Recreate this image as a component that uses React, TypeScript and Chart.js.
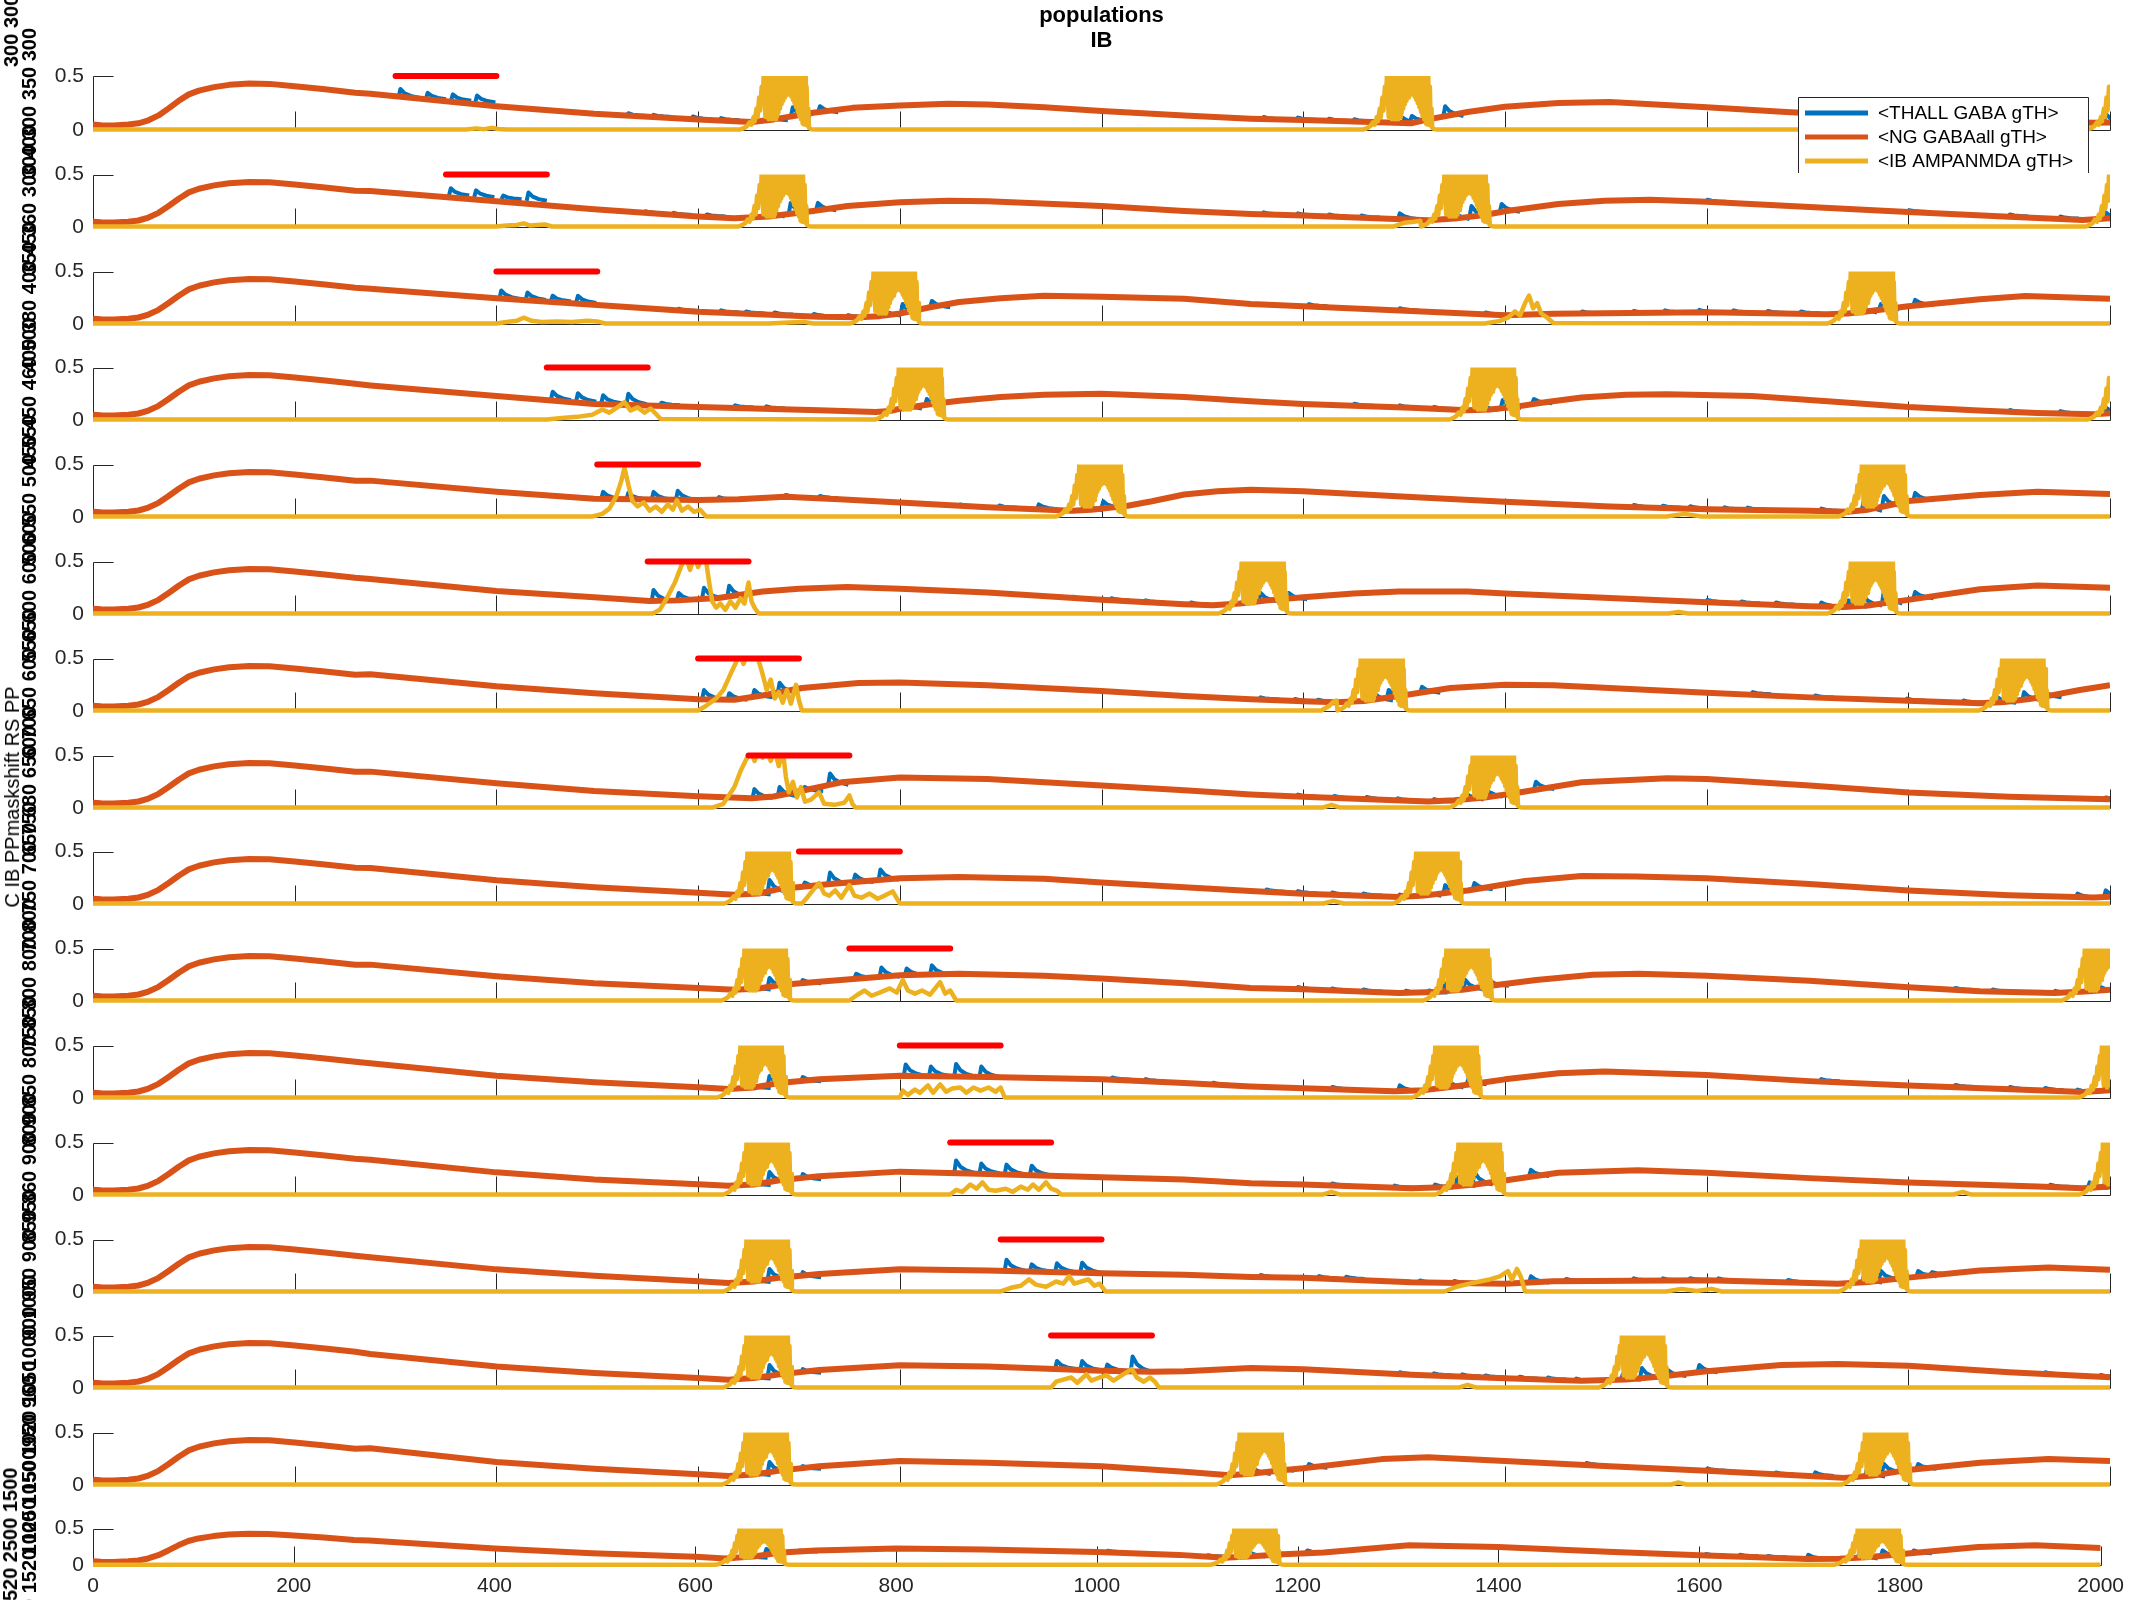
import React, { useEffect, useRef } from "react";
import { Chart, registerables } from "chart.js";
Chart.register(...registerables);

const FONT = "'Liberation Sans', Arial, Helvetica, sans-serif";
const AXIS_COLOR = "#262626";
const C_THALL = "#0072BD";
const C_NG = "#D95319";
const C_IB = "#EDB120";
const C_STIM = "#FF0000";

const SERIES_NAMES = ["<THALL GABA gTH>", "<NG GABAall gTH>", "<IB AMPANMDA gTH>"];
const TITLE_LINES = ["populations", "IB"];
const X_TICKS = [0, 200, 400, 600, 800, 1000, 1200, 1400, 1600, 1800, 2000];
const Y_TICKS = [0, 0.5];
const STIM_ON = [300, 350, 400, 450, 500, 550, 600, 650, 700, 750, 800, 850, 900, 950, null, null];
const STIM_OFF = [400, 450, 500, 550, 600, 650, 700, 750, 800, 850, 900, 950, 1000, 1050, null, null];
const STIM_LEVEL = 0.5;
const MAIN_YLABEL = "C IB PPmaskshift RS PP";
const OUTER_TOP_LABEL = "300 300 300 350";
const OUTER_BOTTOM_LABEL = "1500 1520 2500 1500";
const PANEL_YLABELS = [
  "300 300 350 300", "350 360 300 400", "400 380 400 450", "450 450 460 500",
  "500 550 500 550", "550 600 600 600", "600 650 600 650", "650 680 650 700",
  "700 750 700 750", "750 800 800 800", "800 850 800 850", "850 860 900 900",
  "900 950 900 950", "950 960 1000 1000", "1000 1050 1020 1050", "1500 1520 1250 1500",
];

// common onset of <NG GABAall gTH> (all panels)
const NG_ONSET: number[][] = [[0,0.05],[8,0.045],[20,0.042],[35,0.05],[45,0.062],[55,0.09],[65,0.135],[75,0.2],[85,0.27],[95,0.33],[105,0.365],[120,0.397],[135,0.418],[155,0.43],[175,0.427],[200,0.405],[230,0.377],[260,0.345]];

const NG_01 = [[275,0.335],[400,0.22],[497,0.15],[600,0.098],[653,0.074],[675,0.098],[714,0.16],[753,0.205],[800,0.227],[848,0.242],[887,0.236],[943,0.21],[1000,0.175],[1082,0.135],[1148,0.105],[1200,0.092],[1267,0.074],[1307,0.062],[1324,0.098],[1363,0.166],[1400,0.215],[1453,0.25],[1504,0.26],[1600,0.21],[1679,0.166],[1750,0.135],[1850,0.1],[1930,0.078],[1984,0.067],[2000,0.07]];
const NG_02 = [[275,0.344],[400,0.245],[497,0.17],[600,0.1],[636,0.083],[670,0.1],[714,0.153],[748,0.2],[800,0.236],[848,0.25],[887,0.245],[1000,0.2],[1082,0.153],[1148,0.123],[1200,0.11],[1278,0.08],[1324,0.065],[1350,0.08],[1380,0.115],[1400,0.15],[1453,0.22],[1499,0.25],[1544,0.26],[1600,0.24],[1702,0.19],[1800,0.144],[1900,0.098],[1973,0.067],[2000,0.083]];
const NG_03 = [[275,0.337],[400,0.245],[600,0.117],[720,0.07],[759,0.064],[780,0.075],[800,0.1],[830,0.16],[859,0.21],[900,0.245],[943,0.27],[1000,0.26],[1082,0.24],[1148,0.19],[1200,0.17],[1307,0.123],[1400,0.083],[1448,0.098],[1600,0.113],[1719,0.092],[1740,0.1],[1758,0.12],[1800,0.17],[1871,0.236],[1916,0.267],[2000,0.242]];
const NG_04 = [[275,0.33],[400,0.23],[497,0.153],[600,0.123],[720,0.092],[776,0.077],[790,0.085],[800,0.107],[830,0.15],[859,0.184],[900,0.22],[943,0.24],[1000,0.25],[1082,0.22],[1148,0.178],[1200,0.153],[1307,0.117],[1363,0.092],[1385,0.1],[1408,0.123],[1440,0.17],[1476,0.215],[1520,0.24],[1561,0.245],[1645,0.23],[1720,0.18],[1800,0.123],[1870,0.09],[1928,0.067],[1984,0.055],[2000,0.065]];
const NG_05 = [[275,0.347],[400,0.24],[497,0.175],[600,0.163],[640,0.17],[686,0.193],[740,0.17],[800,0.138],[887,0.092],[971,0.06],[990,0.07],[1010,0.09],[1026,0.107],[1050,0.15],[1082,0.215],[1115,0.245],[1148,0.26],[1200,0.245],[1307,0.19],[1400,0.145],[1504,0.1],[1600,0.074],[1702,0.06],[1740,0.05],[1760,0.07],[1780,0.11],[1800,0.153],[1871,0.21],[1928,0.24],[2000,0.22]];
const NG_06 = [[275,0.334],[400,0.22],[497,0.16],[552,0.123],[580,0.13],[620,0.153],[664,0.215],[700,0.24],[748,0.258],[800,0.242],[887,0.206],[1000,0.135],[1082,0.092],[1110,0.083],[1137,0.1],[1165,0.13],[1200,0.16],[1250,0.195],[1295,0.215],[1363,0.215],[1400,0.196],[1504,0.153],[1600,0.113],[1702,0.074],[1736,0.067],[1760,0.08],[1780,0.11],[1800,0.135],[1871,0.236],[1928,0.273],[2000,0.25]];
const NG_07 = [[275,0.35],[400,0.236],[497,0.17],[600,0.113],[636,0.107],[665,0.15],[703,0.22],[759,0.267],[800,0.273],[887,0.245],[1000,0.19],[1082,0.144],[1148,0.113],[1200,0.092],[1233,0.083],[1260,0.095],[1295,0.144],[1346,0.22],[1400,0.25],[1448,0.245],[1600,0.175],[1702,0.13],[1800,0.098],[1871,0.074],[1895,0.085],[1920,0.115],[1939,0.144],[1970,0.2],[2000,0.245]];
const NG_08 = [[275,0.347],[400,0.236],[497,0.163],[600,0.113],[653,0.092],[675,0.11],[697,0.153],[742,0.245],[800,0.29],[887,0.276],[1000,0.215],[1082,0.17],[1148,0.129],[1200,0.107],[1324,0.061],[1350,0.075],[1380,0.1],[1408,0.138],[1476,0.245],[1561,0.285],[1600,0.276],[1702,0.215],[1800,0.147],[1900,0.107],[2000,0.083]];
const NG_09 = [[275,0.344],[400,0.227],[497,0.16],[600,0.107],[636,0.089],[660,0.1],[681,0.144],[731,0.19],[800,0.245],[859,0.258],[943,0.242],[1000,0.206],[1082,0.16],[1148,0.123],[1200,0.098],[1295,0.067],[1320,0.08],[1345,0.11],[1363,0.129],[1420,0.22],[1476,0.267],[1530,0.262],[1600,0.245],[1702,0.19],[1800,0.129],[1900,0.083],[1984,0.061],[2000,0.07]];
const NG_10 = [[275,0.347],[400,0.236],[497,0.17],[600,0.123],[636,0.107],[660,0.12],[681,0.153],[720,0.184],[800,0.245],[859,0.26],[943,0.24],[1000,0.215],[1082,0.17],[1148,0.123],[1200,0.113],[1295,0.077],[1330,0.085],[1360,0.11],[1380,0.138],[1431,0.2],[1487,0.25],[1533,0.26],[1600,0.24],[1702,0.193],[1800,0.132],[1871,0.092],[1945,0.077],[1975,0.09],[2000,0.107]];
const NG_11 = [[275,0.332],[400,0.212],[497,0.15],[600,0.103],[630,0.086],[655,0.1],[681,0.144],[720,0.178],[800,0.212],[887,0.2],[1000,0.178],[1082,0.144],[1148,0.11],[1200,0.092],[1290,0.065],[1320,0.075],[1350,0.11],[1375,0.144],[1400,0.178],[1453,0.236],[1499,0.253],[1600,0.219],[1702,0.161],[1800,0.12],[1928,0.075],[1973,0.058],[2000,0.075]];
const NG_12 = [[275,0.336],[400,0.216],[497,0.147],[600,0.103],[630,0.089],[655,0.1],[681,0.14],[720,0.18],[800,0.223],[887,0.2],[1000,0.17],[1082,0.147],[1148,0.113],[1200,0.1],[1307,0.065],[1340,0.075],[1370,0.1],[1391,0.127],[1453,0.212],[1532,0.236],[1600,0.212],[1702,0.161],[1800,0.12],[1928,0.082],[1973,0.065],[2000,0.082]];
const NG_13 = [[275,0.332],[400,0.216],[497,0.154],[600,0.103],[630,0.086],[655,0.1],[681,0.137],[720,0.171],[800,0.216],[887,0.205],[1000,0.18],[1082,0.164],[1148,0.144],[1200,0.137],[1307,0.092],[1400,0.079],[1448,0.103],[1600,0.113],[1730,0.079],[1760,0.095],[1800,0.137],[1871,0.205],[1939,0.233],[2000,0.212]];
const NG_14 = [[275,0.325],[400,0.205],[497,0.144],[600,0.096],[630,0.079],[655,0.095],[681,0.13],[720,0.171],[800,0.216],[887,0.205],[1000,0.164],[1050,0.155],[1082,0.16],[1148,0.19],[1200,0.178],[1307,0.127],[1400,0.092],[1476,0.068],[1520,0.08],[1555,0.11],[1600,0.16],[1674,0.219],[1730,0.23],[1800,0.212],[1900,0.15],[2000,0.103]];
const NG_15 = [[275,0.35],[400,0.219],[497,0.154],[600,0.103],[630,0.086],[655,0.1],[681,0.137],[720,0.178],[800,0.23],[887,0.212],[1000,0.178],[1082,0.127],[1127,0.092],[1150,0.11],[1182,0.144],[1200,0.16],[1278,0.247],[1324,0.264],[1400,0.23],[1504,0.178],[1600,0.137],[1702,0.086],[1736,0.068],[1765,0.09],[1800,0.144],[1871,0.212],[1939,0.247],[2000,0.23]];
const NG_16 = [[275,0.337],[400,0.228],[497,0.163],[600,0.114],[630,0.089],[660,0.12],[686,0.173],[720,0.198],[800,0.228],[887,0.213],[1000,0.178],[1082,0.139],[1127,0.1],[1155,0.12],[1186,0.148],[1226,0.173],[1311,0.272],[1400,0.248],[1509,0.183],[1600,0.134],[1708,0.084],[1740,0.085],[1770,0.11],[1800,0.148],[1878,0.248],[1935,0.272],[2000,0.233]];

// <THALL GABA gTH> spikes: [time, base, peak]
const THALL_01 = [[304,0.3,0.38],[331,0.285,0.345],[356,0.27,0.33],[380,0.255,0.32],[530,0.13,0.155],[555,0.12,0.14],[594,0.1,0.125],[622,0.09,0.11],[670,0.09,0.13],[693,0.12,0.21],[720,0.165,0.22],[1160,0.1,0.12],[1194,0.093,0.115],[1225,0.085,0.105],[1250,0.078,0.1],[1291,0.07,0.19],[1307,0.08,0.13],[1340,0.13,0.22],[1995,0.07,0.15]];
const THALL_02 = [[354,0.3,0.37],[379,0.285,0.35],[406,0.265,0.3],[431,0.25,0.33],[547,0.13,0.15],[575,0.115,0.135],[608,0.1,0.12],[667,0.1,0.2],[691,0.13,0.23],[718,0.16,0.23],[1160,0.12,0.14],[1194,0.11,0.13],[1225,0.1,0.12],[1257,0.09,0.11],[1295,0.075,0.13],[1346,0.075,0.18],[1366,0.1,0.2],[1396,0.145,0.22],[1600,0.24,0.26],[1800,0.144,0.16],[1900,0.1,0.12],[1950,0.08,0.1],[1995,0.075,0.14]];
const THALL_03 = [[404,0.24,0.32],[430,0.23,0.3],[455,0.215,0.27],[480,0.2,0.27],[580,0.125,0.145],[622,0.11,0.13],[647,0.1,0.12],[675,0.09,0.11],[714,0.075,0.095],[748,0.065,0.085],[782,0.08,0.15],[802,0.1,0.19],[831,0.16,0.22],[1205,0.17,0.19],[1295,0.13,0.15],[1380,0.09,0.11],[1476,0.1,0.12],[1527,0.105,0.125],[1558,0.11,0.13],[1592,0.112,0.135],[1626,0.11,0.13],[1660,0.105,0.125],[1693,0.1,0.12],[1750,0.11,0.2],[1772,0.14,0.19],[1806,0.18,0.23]];
const THALL_04 = [[455,0.19,0.27],[480,0.175,0.255],[505,0.16,0.236],[530,0.15,0.25],[563,0.14,0.165],[636,0.12,0.14],[667,0.11,0.13],[803,0.11,0.18],[826,0.14,0.2],[1250,0.135,0.155],[1295,0.12,0.14],[1329,0.105,0.125],[1374,0.095,0.17],[1397,0.115,0.19],[1428,0.16,0.2],[1900,0.075,0.095],[1950,0.062,0.085],[1995,0.06,0.12]];
const THALL_05 = [[505,0.172,0.24],[530,0.168,0.23],[555,0.165,0.24],[579,0.163,0.25],[620,0.165,0.19],[686,0.19,0.21],[720,0.18,0.2],[859,0.1,0.12],[898,0.088,0.11],[937,0.075,0.12],[982,0.065,0.15],[1001,0.085,0.15],[1527,0.095,0.115],[1556,0.088,0.108],[1583,0.082,0.102],[1617,0.072,0.092],[1640,0.07,0.09],[1713,0.058,0.08],[1755,0.06,0.16],[1775,0.1,0.2],[1806,0.16,0.23]];
const THALL_06 = [[555,0.123,0.23],[580,0.13,0.2],[605,0.15,0.25],[630,0.165,0.27],[971,0.145,0.165],[1009,0.13,0.15],[1043,0.11,0.13],[1088,0.09,0.11],[1157,0.12,0.2],[1185,0.14,0.2],[1600,0.113,0.135],[1634,0.1,0.12],[1668,0.09,0.11],[1713,0.072,0.11],[1740,0.07,0.13],[1755,0.08,0.17],[1775,0.1,0.23],[1806,0.15,0.21]];
const THALL_07 = [[605,0.112,0.2],[630,0.108,0.17],[655,0.13,0.2],[680,0.17,0.27],[1157,0.11,0.13],[1191,0.095,0.115],[1214,0.088,0.108],[1270,0.1,0.17],[1284,0.12,0.2],[1317,0.175,0.23],[1645,0.16,0.18],[1707,0.128,0.148],[1798,0.098,0.118],[1854,0.08,0.1],[1888,0.078,0.13],[1914,0.1,0.18],[1933,0.13,0.2]];
const THALL_08 = [[655,0.095,0.18],[680,0.11,0.2],[705,0.16,0.2],[730,0.22,0.33],[1194,0.108,0.128],[1230,0.095,0.115],[1262,0.085,0.105],[1293,0.072,0.092],[1329,0.062,0.085],[1360,0.08,0.15],[1379,0.11,0.2],[1430,0.18,0.25],[1995,0.083,0.1]];
const THALL_09 = [[653,0.09,0.14],[670,0.11,0.23],[705,0.165,0.205],[730,0.19,0.3],[755,0.21,0.28],[780,0.23,0.33],[1163,0.118,0.138],[1194,0.103,0.123],[1228,0.09,0.11],[1259,0.08,0.1],[1295,0.067,0.09],[1318,0.078,0.15],[1340,0.1,0.18],[1369,0.14,0.2],[1967,0.062,0.1],[1995,0.065,0.13]];
const THALL_10 = [[653,0.11,0.15],[670,0.13,0.22],[703,0.17,0.2],[756,0.22,0.26],[781,0.23,0.32],[806,0.245,0.31],[831,0.25,0.34],[1194,0.113,0.133],[1228,0.1,0.12],[1259,0.09,0.11],[1301,0.078,0.098],[1324,0.08,0.1],[1340,0.1,0.17],[1360,0.11,0.2],[1385,0.145,0.19],[1846,0.105,0.125],[1883,0.09,0.11],[1945,0.077,0.097],[1984,0.1,0.18]];
const THALL_11 = [[653,0.095,0.12],[670,0.12,0.21],[703,0.16,0.2],[805,0.212,0.32],[830,0.21,0.3],[855,0.205,0.325],[880,0.2,0.3],[1010,0.175,0.195],[1043,0.16,0.18],[1110,0.125,0.145],[1228,0.085,0.105],[1295,0.067,0.12],[1340,0.1,0.2],[1363,0.13,0.18],[1713,0.16,0.18],[1846,0.105,0.125],[1900,0.085,0.105],[1935,0.075,0.095],[1967,0.06,0.08],[1995,0.07,0.13]];
const THALL_12 = [[653,0.095,0.12],[670,0.12,0.22],[703,0.15,0.2],[855,0.21,0.33],[880,0.205,0.3],[905,0.198,0.29],[930,0.19,0.28],[1228,0.09,0.11],[1290,0.07,0.09],[1330,0.072,0.1],[1352,0.085,0.17],[1369,0.1,0.22],[1425,0.18,0.24],[1940,0.078,0.098],[1979,0.066,0.12],[1995,0.075,0.17]];
const THALL_13 = [[653,0.095,0.13],[670,0.12,0.22],[703,0.14,0.19],[905,0.203,0.308],[930,0.196,0.264],[955,0.19,0.274],[980,0.185,0.28],[1157,0.142,0.162],[1215,0.132,0.152],[1242,0.125,0.145],[1315,0.09,0.11],[1349,0.085,0.105],[1425,0.09,0.15],[1460,0.105,0.125],[1527,0.11,0.13],[1556,0.11,0.13],[1583,0.112,0.132],[1611,0.11,0.13],[1680,0.095,0.115],[1755,0.09,0.15],[1772,0.12,0.2],[1809,0.15,0.2],[1823,0.17,0.19]];
const THALL_14 = [[653,0.09,0.12],[670,0.11,0.22],[703,0.145,0.18],[955,0.182,0.257],[980,0.17,0.257],[1005,0.163,0.223],[1030,0.157,0.3],[1295,0.13,0.15],[1329,0.12,0.14],[1357,0.11,0.13],[1380,0.1,0.12],[1414,0.088,0.108],[1442,0.08,0.1],[1470,0.07,0.09],[1516,0.078,0.13],[1535,0.095,0.19],[1561,0.115,0.17],[1592,0.15,0.22],[1935,0.13,0.15],[1990,0.105,0.125]];
const THALL_15 = [[653,0.095,0.13],[670,0.12,0.22],[703,0.155,0.18],[1149,0.105,0.17],[1172,0.135,0.2],[1205,0.165,0.2],[1480,0.19,0.21],[1600,0.137,0.157],[1668,0.1,0.12],[1707,0.085,0.12],[1758,0.08,0.15],[1775,0.12,0.2],[1809,0.155,0.2]];
const THALL_16 = [[653,0.1,0.13],[670,0.14,0.22],[703,0.185,0.2],[1010,0.175,0.195],[1110,0.115,0.135],[1149,0.115,0.2],[1175,0.145,0.18],[1209,0.165,0.2],[1606,0.132,0.152],[1640,0.12,0.14],[1668,0.105,0.125],[1708,0.084,0.14],[1759,0.09,0.18],[1782,0.12,0.2],[1813,0.16,0.2]];

// shape of one THALL spike: [time offset, fraction of (peak - base)]
const THALL_SPIKE_SHAPE = [[-1,0],[0.8,1],[5,0.5],[11,0.2],[19,0]];

// shape of one IB burst: [time offset, value]
const IB_BURST_SHAPE = [[-24,0.005],[-20,0.02],[-17,0.04],[-15,0.07],[-13,0.05],[-11,0.12],[-10,0.08],[-8,0.2],[-7,0.12],[-5.5,0.3],[-4.5,0.18],[-3,0.4],[-2,0.25],[-1,0.5],
  [0,0.3],[0.8,0.12],[1.6,0.56],[2.4,0.15],[3.2,0.56],[4,0.1],[4.8,0.56],[5.6,0.14],[6.4,0.56],[7.2,0.1],[8,0.56],[8.8,0.12],[9.6,0.56],[10.4,0.1],[11.2,0.56],
  [12,0.12],[12.8,0.56],[13.6,0.16],[14.4,0.56],[15.2,0.2],[16,0.56],[16.8,0.24],[17.6,0.56],[18.4,0.27],[19.2,0.56],[20,0.3],[20.8,0.56],[21.6,0.32],[22.4,0.56],[23.2,0.33],[24,0.56],[24.8,0.33],[25.6,0.56],[26.4,0.31],[27.2,0.56],[28,0.28],[28.8,0.56],[29.6,0.25],[30.4,0.56],[31.2,0.21],[32,0.56],[32.8,0.17],[33.6,0.56],[34.4,0.13],[35.2,0.56],[36,0.1],[36.8,0.56],
  [37.6,0.06],[38.4,0.56],[39.2,0.05],[40,0.5],[40.8,0.05],[41.6,0.4],[42.4,0.04],[43.2,0.2],[44,0.02],[46,0.008],[50,0.005]];

// <IB AMPANMDA gTH> burst onsets per panel
const IB_BURSTS_01 = [666, 1284, 2002];
const IB_BURSTS_02 = [664, 1341, 2000];
const IB_BURSTS_03 = [775, 1744];
const IB_BURSTS_04 = [800, 1369, 2002];
const IB_BURSTS_05 = [979, 1755];
const IB_BURSTS_06 = [1140, 1744];
const IB_BURSTS_07 = [1258, 1894];
const IB_BURSTS_08 = [1369];
const IB_BURSTS_09 = [650, 1313];
const IB_BURSTS_10 = [647, 1343, 1976];
const IB_BURSTS_11 = [643, 1332, 1993];
const IB_BURSTS_12 = [649, 1355, 1994];
const IB_BURSTS_13 = [649, 1755];
const IB_BURSTS_14 = [649, 1517];
const IB_BURSTS_15 = [648, 1138, 1758];
const IB_BURSTS_16 = [645, 1138, 1759];

// other <IB AMPANMDA gTH> activity (evoked / small)
const IB_EXTRA_01 = [[[370,0.005],[380,0.015],[388,0.008],[395,0.02],[402,0.01],[410,0.004]]];
const IB_EXTRA_02 = [[[400,0.005],[410,0.015],[420,0.02],[427,0.035],[433,0.015],[440,0.02],[448,0.025],[455,0.005]],[[1290,0.005],[1300,0.04],[1310,0.05],[1316,0.06]]];
const IB_EXTRA_03 = [[[400,0.005],[410,0.02],[420,0.03],[427,0.06],[435,0.03],[445,0.02],[460,0.025],[475,0.02],[490,0.03],[500,0.025],[508,0.005]],[[670,0.005],[690,0.015],[705,0.02],[714,0.005]],[[1380,0.005],[1395,0.03],[1403,0.06],[1410,0.12],[1415,0.08],[1420,0.2],[1424,0.27],[1428,0.15],[1432,0.2],[1436,0.1],[1442,0.06],[1448,0.01]]];
const IB_EXTRA_04 = [[[450,0.005],[465,0.02],[480,0.03],[495,0.05],[505,0.1],[512,0.07],[520,0.12],[527,0.17],[533,0.09],[540,0.12],[547,0.07],[553,0.11],[558,0.06],[563,0.01]]];
const IB_EXTRA_05 = [[[495,0.005],[505,0.03],[512,0.08],[519,0.2],[524,0.35],[527,0.47],[531,0.3],[535,0.15],[540,0.1],[546,0.14],[552,0.06],[558,0.1],[564,0.05],[570,0.12],[575,0.07],[579,0.16],[584,0.06],[590,0.1],[596,0.05],[602,0.07],[608,0.005]],[[1560,0.005],[1578,0.03],[1595,0.005]]];
const IB_EXTRA_06 = [[[555,0.005],[562,0.04],[569,0.15],[577,0.3],[583,0.45],[588,0.55],[592,0.42],[596,0.55],[600,0.45],[604,0.55],[608,0.5],[611,0.3],[614,0.12],[618,0.06],[622,0.1],[627,0.04],[632,0.12],[637,0.06],[642,0.15],[646,0.1],[650,0.3],[653,0.12],[656,0.06],[660,0.005]],[[1562,0.005],[1572,0.02],[1582,0.005]]];
const IB_EXTRA_07 = [[[600,0.005],[608,0.05],[618,0.12],[625,0.2],[632,0.35],[637,0.45],[641,0.55],[645,0.45],[649,0.55],[653,0.5],[657,0.55],[661,0.45],[664,0.35],[668,0.2],[672,0.3],[676,0.12],[680,0.18],[684,0.08],[688,0.2],[692,0.07],[697,0.25],[700,0.1],[703,0.005]],[[1218,0.005],[1226,0.05],[1230,0.09],[1233,0.1]]];
const IB_EXTRA_08 = [[[615,0.005],[625,0.04],[636,0.2],[642,0.35],[647,0.45],[652,0.55],[656,0.45],[660,0.55],[664,0.48],[668,0.55],[672,0.45],[676,0.55],[680,0.4],[684,0.55],[687,0.3],[690,0.15],[694,0.25],[698,0.1],[702,0.2],[706,0.06],[712,0.08],[720,0.15],[725,0.04],[735,0.03],[745,0.05],[750,0.12],[753,0.04],[756,0.005]],[[1220,0.005],[1228,0.03],[1236,0.005]]];
const IB_EXTRA_09 = [[[703,0.005],[708,0.06],[713,0.12],[720,0.2],[725,0.1],[730,0.08],[736,0.13],[742,0.06],[750,0.18],[755,0.08],[762,0.06],[770,0.1],[778,0.05],[785,0.08],[793,0.12],[800,0.005]],[[1220,0.005],[1230,0.03],[1240,0.005]]];
const IB_EXTRA_10 = [[[750,0.005],[758,0.06],[765,0.1],[772,0.05],[780,0.08],[790,0.12],[797,0.08],[803,0.2],[808,0.1],[815,0.07],[822,0.1],[830,0.06],[840,0.18],[845,0.07],[850,0.1],[856,0.005]]];
const IB_EXTRA_11 = [[[800,0.005],[803,0.07],[808,0.03],[815,0.08],[820,0.05],[828,0.12],[833,0.05],[840,0.13],[846,0.06],[852,0.09],[860,0.1],[866,0.05],[873,0.1],[880,0.07],[888,0.1],[895,0.06],[900,0.1],[904,0.005]]];
const IB_EXTRA_12 = [[[850,0.005],[856,0.05],[862,0.03],[870,0.1],[876,0.06],[882,0.12],[888,0.05],[895,0.04],[905,0.06],[912,0.03],[920,0.08],[927,0.05],[932,0.1],[938,0.05],[945,0.12],[950,0.06],[956,0.04],[960,0.005]],[[1220,0.005],[1228,0.03],[1236,0.005]],[[1845,0.005],[1854,0.03],[1862,0.005]]];
const IB_EXTRA_13 = [[[900,0.005],[910,0.04],[920,0.06],[928,0.12],[935,0.07],[945,0.05],[955,0.1],[962,0.08],[968,0.15],[973,0.08],[980,0.1],[987,0.12],[993,0.06],[998,0.08],[1004,0.005]],[[1340,0.005],[1352,0.05],[1365,0.08],[1375,0.1],[1385,0.12],[1395,0.15],[1403,0.2],[1407,0.12],[1412,0.22],[1416,0.14],[1420,0.005]],[[1560,0.005],[1575,0.03],[1590,0.01],[1605,0.03],[1615,0.005]]];
const IB_EXTRA_14 = [[[950,0.005],[955,0.06],[962,0.08],[970,0.1],[976,0.05],[985,0.13],[990,0.07],[998,0.1],[1005,0.12],[1012,0.07],[1020,0.12],[1030,0.18],[1035,0.1],[1042,0.06],[1048,0.1],[1053,0.06],[1057,0.005]],[[1355,0.005],[1363,0.03],[1371,0.005]]];
const IB_EXTRA_15 = [[[1565,0.005],[1572,0.025],[1580,0.005]]];
const IB_EXTRA_16: number[][][] = [];

const NG_ALL = [NG_01,NG_02,NG_03,NG_04,NG_05,NG_06,NG_07,NG_08,NG_09,NG_10,NG_11,NG_12,NG_13,NG_14,NG_15,NG_16];
const THALL_ALL = [THALL_01,THALL_02,THALL_03,THALL_04,THALL_05,THALL_06,THALL_07,THALL_08,THALL_09,THALL_10,THALL_11,THALL_12,THALL_13,THALL_14,THALL_15,THALL_16];
const IB_BURSTS_ALL = [IB_BURSTS_01,IB_BURSTS_02,IB_BURSTS_03,IB_BURSTS_04,IB_BURSTS_05,IB_BURSTS_06,IB_BURSTS_07,IB_BURSTS_08,IB_BURSTS_09,IB_BURSTS_10,IB_BURSTS_11,IB_BURSTS_12,IB_BURSTS_13,IB_BURSTS_14,IB_BURSTS_15,IB_BURSTS_16];
const IB_EXTRA_ALL = [IB_EXTRA_01,IB_EXTRA_02,IB_EXTRA_03,IB_EXTRA_04,IB_EXTRA_05,IB_EXTRA_06,IB_EXTRA_07,IB_EXTRA_08,IB_EXTRA_09,IB_EXTRA_10,IB_EXTRA_11,IB_EXTRA_12,IB_EXTRA_13,IB_EXTRA_14,IB_EXTRA_15,IB_EXTRA_16];

// ---------- layout ----------
const W = 2133;
const AX_LEFT = 93;
function geom(i: number) {
  const zero = i < 15 ? Math.round(130 + 96.8 * i) : 1565;
  const h = i < 15 ? 54 : 38;
  const top05 = zero - h;
  const right = i < 15 ? 2110 : 2103;
  let canvasTop: number, padTop: number, canvasH: number, padBottom: number, xAxisH = 0;
  if (i === 0) { canvasTop = 0; padTop = top05; canvasH = 176; padBottom = canvasH - zero; }
  else if (i === 15) { canvasTop = top05 - 20; padTop = 20; canvasH = 1600 - canvasTop; padBottom = 0; xAxisH = 1600 - zero; }
  else { canvasTop = top05 - 20; padTop = 20; canvasH = 20 + h + 24; padBottom = 24; }
  return { zero, h, top05, right, canvasTop, padTop, canvasH, padBottom, xAxisH, padRight: W - right };
}

function ngData(i: number) {
  return [...NG_ONSET, ...NG_ALL[i]].map(([x, y]) => ({ x, y }));
}
function thallData(i: number) {
  const pts: { x: number; y: number | null }[] = [];
  for (const [t, base, peak] of THALL_ALL[i]) {
    for (const [dx, f] of THALL_SPIKE_SHAPE) pts.push({ x: t + dx, y: base + (peak - base) * f });
    pts.push({ x: t + 19.5, y: null });
  }
  return pts;
}
function ibData(i: number) {
  const events: number[][][] = [];
  for (const t of IB_BURSTS_ALL[i]) events.push(IB_BURST_SHAPE.map(([dx, y]) => [t + dx, y]));
  for (const seg of IB_EXTRA_ALL[i]) events.push(seg);
  events.sort((a, b) => a[0][0] - b[0][0]);
  const pts: { x: number; y: number }[] = [{ x: 0, y: 0.004 }];
  for (const e of events) for (const [x, y] of e) pts.push({ x, y });
  if (pts[pts.length - 1].x < 2000) pts.push({ x: 2000, y: 0.004 });
  return pts;
}

const axesPlugin = {
  id: "matlabAxes",
  beforeDatasetsDraw(chart: any) {
    const { ctx, scales } = chart;
    const x = scales.x, y = scales.y;
    const y0 = Math.round(y.getPixelForValue(0)) + 0.5;
    const yTop = Math.round(y.getPixelForValue(0.5)) + 0.5;
    const xl = Math.round(x.getPixelForValue(0)) + 0.5;
    const xr = Math.round(x.getPixelForValue(2000)) + 0.5;
    ctx.save();
    ctx.strokeStyle = AXIS_COLOR;
    ctx.lineWidth = 1;
    ctx.beginPath();
    ctx.moveTo(xl, yTop); ctx.lineTo(xl, y0);
    ctx.moveTo(xl, yTop); ctx.lineTo(xl + 20, yTop);
    ctx.moveTo(xl, y0); ctx.lineTo(xr, y0);
    for (const v of X_TICKS) {
      const px = Math.round(x.getPixelForValue(v)) + 0.5;
      ctx.moveTo(px, y0); ctx.lineTo(px, y0 - 19);
    }
    ctx.stroke();
    ctx.restore();
  },
};

const overlayPlugin = {
  id: "overlayTop",
  afterDraw(chart: any) {
    const { ctx, chartArea } = chart;
    ctx.save();
    ctx.fillStyle = "#000";
    ctx.font = `bold 22px ${FONT}`;
    ctx.textAlign = "center";
    ctx.textBaseline = "middle";
    const cx = (chartArea.left + chartArea.right) / 2;
    ctx.fillText(TITLE_LINES[0], cx, 16);
    ctx.fillText(TITLE_LINES[1], cx, 41);
    const lx = 1798, ly = 97, lw = 291, lb = 173;
    ctx.fillStyle = "#fff";
    ctx.fillRect(lx, ly, lw, lb - ly);
    ctx.strokeStyle = AXIS_COLOR;
    ctx.lineWidth = 1;
    ctx.beginPath();
    ctx.moveTo(lx + 0.5, lb); ctx.lineTo(lx + 0.5, ly + 0.5); ctx.lineTo(lx + lw - 0.5, ly + 0.5); ctx.lineTo(lx + lw - 0.5, lb);
    ctx.stroke();
    const cols = [C_THALL, C_NG, C_IB];
    ctx.font = `19px ${FONT}`;
    ctx.textAlign = "left";
    for (let k = 0; k < 3; k++) {
      const yy = 113 + 24 * k;
      ctx.strokeStyle = cols[k];
      ctx.lineWidth = 5;
      ctx.beginPath(); ctx.moveTo(1805, yy); ctx.lineTo(1868, yy); ctx.stroke();
      ctx.fillStyle = "#000";
      ctx.fillText(SERIES_NAMES[k], 1878, yy + 1);
    }
    ctx.restore();
  },
};

function Panel({ i }: { i: number }) {
  const ref = useRef<HTMLCanvasElement>(null);
  const g = geom(i);
  useEffect(() => {
    const isLast = i === 15;
    const clipArea = { left: 0, right: 0, top: 0, bottom: false };
    const datasets: any[] = [];
    if (STIM_ON[i] != null) {
      datasets.push({ label: "stim", data: [{ x: STIM_ON[i], y: STIM_LEVEL }, { x: STIM_OFF[i], y: STIM_LEVEL }], borderColor: C_STIM, borderWidth: 6, borderCapStyle: "round", pointRadius: 0, order: 0, clip: false });
    }
    datasets.push({ label: SERIES_NAMES[2], data: ibData(i), borderColor: C_IB, borderWidth: 4.5, pointRadius: 0, order: 1, clip: clipArea });
    datasets.push({ label: SERIES_NAMES[1], data: ngData(i), borderColor: C_NG, borderWidth: 6, pointRadius: 0, order: 2, clip: clipArea });
    datasets.push({ label: SERIES_NAMES[0], data: thallData(i), borderColor: C_THALL, borderWidth: 4, pointRadius: 0, order: 3, clip: clipArea, spanGaps: false });
    const chart = new Chart(ref.current!, {
      type: "line",
      data: { datasets },
      options: {
        responsive: false,
        animation: false,
        devicePixelRatio: 1,
        events: [],
        layout: { padding: { left: 0, right: g.padRight, top: g.padTop, bottom: g.padBottom } },
        plugins: { legend: { display: false }, tooltip: { enabled: false }, title: { display: false } },
        elements: { line: { tension: 0, borderJoinStyle: "round" }, point: { radius: 0 } },
        scales: {
          x: {
            type: "linear", min: 0, max: 2000, display: isLast,
            afterBuildTicks: (s: any) => { s.ticks = X_TICKS.map((v) => ({ value: v })); },
            afterFit: (s: any) => { s.height = g.xAxisH; },
            grid: { display: false, drawTicks: false },
            border: { display: false },
            ticks: { font: { family: FONT, size: 21 }, color: AXIS_COLOR, padding: 9, maxRotation: 0, autoSkip: false, callback: (v: any) => String(v) },
          },
          y: {
            type: "linear", min: 0, max: 0.5,
            afterBuildTicks: (s: any) => { s.ticks = Y_TICKS.map((v) => ({ value: v })); },
            afterFit: (s: any) => { s.width = AX_LEFT; },
            grid: { display: false, drawTicks: false },
            border: { display: false },
            ticks: { font: { family: FONT, size: 21 }, color: AXIS_COLOR, padding: 9, callback: (v: any) => String(v) },
          },
        },
      } as any,
      plugins: i === 0 ? [axesPlugin, overlayPlugin] : [axesPlugin],
    } as any);
    return () => chart.destroy();
  }, []);
  return (
    <canvas ref={ref} width={W} height={g.canvasH}
      style={{ position: "absolute", left: 0, top: g.canvasTop, width: W, height: g.canvasH, display: "block" }} />
  );
}

function RotLabel({ x, y, text, bold }: { x: number; y: number; text: string; bold: boolean }) {
  return (
    <div style={{ position: "absolute", left: x, top: y, transform: "translate(-50%, -50%) rotate(-90deg)", whiteSpace: "nowrap", font: `${bold ? "bold " : ""}20px ${FONT}`, color: "#000", lineHeight: "20px" }}>
      {text}
    </div>
  );
}

function YLabels() {
  const items: React.ReactNode[] = [];
  for (let i = 0; i < 16; i++) {
    const g = geom(i);
    const cy = (g.zero + g.top05) / 2;
    items.push(<RotLabel key={"yl" + i} x={29} y={cy} text={PANEL_YLABELS[i]} bold={true} />);
  }
  items.push(<RotLabel key="top" x={11} y={-8} text={OUTER_TOP_LABEL} bold={true} />);
  items.push(<RotLabel key="main" x={12} y={797} text={MAIN_YLABEL} bold={false} />);
  items.push(<RotLabel key="bot" x={10} y={1565} text={OUTER_BOTTOM_LABEL} bold={true} />);
  return <>{items}</>;
}

export default function App() {
  const panels = [];
  for (let i = 0; i < 16; i++) panels.push(<Panel key={i} i={i} />);
  return (
    <div style={{ position: "absolute", left: 0, top: 0, width: W, height: 1600, background: "#fff", overflow: "hidden" }}>
      {panels}
      <YLabels />
    </div>
  );
}
